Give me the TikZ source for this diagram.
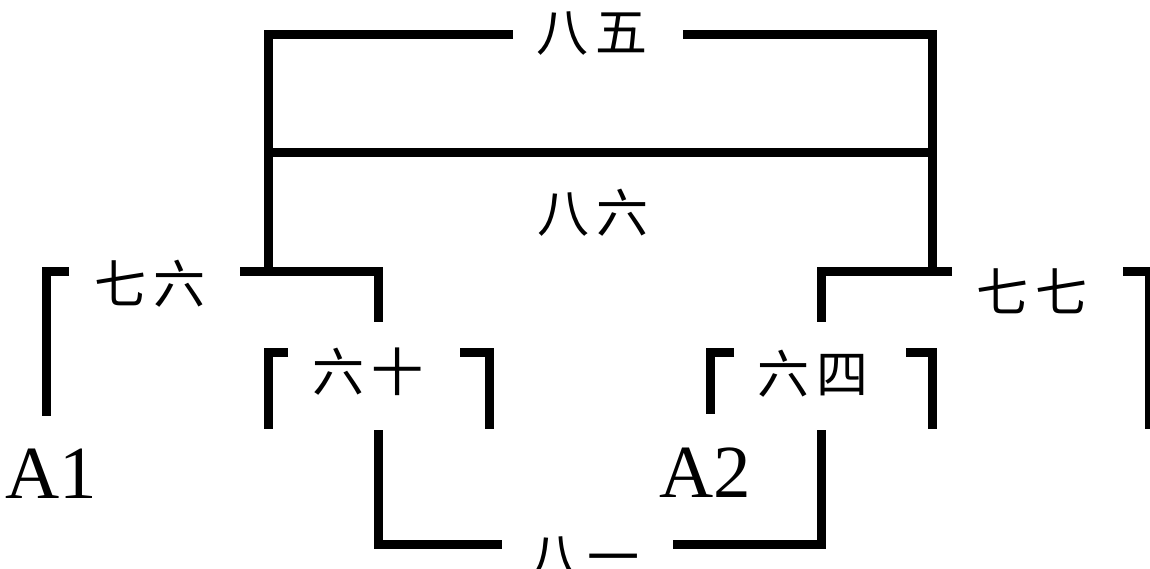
\documentclass[tikz,border=0pt]{standalone}
\usepackage{fontspec}
\setmainfont{Liberation Serif}
\newfontfamily\cjk{Noto Sans CJK SC}
\newcommand\zi[2]{#1\kern.14em#2}

\begin{document}
\begin{tikzpicture}[x=1pt,y=-1pt,
	bar/.style={line width=9pt},
	han/.style={font=\cjk\fontsize{52}{52}\selectfont, inner sep=0pt},
	latin/.style={font=\fontsize{75}{75}\selectfont, inner sep=0pt, anchor=base}]
	\useasboundingbox (0,0) rectangle (1150,569);
	% outer frame
	\path (268.5,34.5) coordinate (a)
	++ (0,118) coordinate (b)
	++ (0,118.5) coordinate (c);
	\path (932.5,34.5) coordinate (d)
	++ (0,118) coordinate (e)
	++ (0,118.5) coordinate (f);
	\path (513,34.5) coordinate (g)
	(683,34.5) coordinate (h);
	\draw[bar] (g) -- (a) -- (c);
	\draw[bar] (h) -- (d) -- (f);
	\draw[bar] (b) -- (e);
	\node[han] (n85) at (592,34) {\zi{八}{五}};
	\node[han] (n86) at (593,213) {\zi{八}{六}};
	% forks
	\path (c) + (-28.5,0) coordinate (cl)
	++ (110,0) coordinate (cr)
	+ (0,51) coordinate (cd);
	\path (f) + (19.5,0) coordinate (fr)
	++ (-111,0) coordinate (fl)
	+ (0,51) coordinate (fd);
	\draw[bar] (cl) -- (cr) -- (cd);
	\draw[bar] (fr) -- (fl) -- (fd);
	% 76 and 77
	\path (46.5,271) coordinate (p)
	+ (22.5,0) coordinate (pr)
	+ (0,145) coordinate (pd);
	\path (1149.5,271) coordinate (q)
	+ (-26.5,0) coordinate (ql)
	+ (0,158) coordinate (qd);
	\draw[bar] (pr) -- (p) -- (pd);
	\draw[bar] (ql) -- (q) -- (qd);
	\node[han] (n76) at (150,283.5) {\zi{七}{六}};
	\node[han] (n77) at (1032,291) {\zi{七}{七}};
	% 60 and 64
	\path (268.5,352.5) coordinate (s)
	+ (19.5,0) coordinate (sr)
	+ (0,76.5) coordinate (sd);
	\path (489.5,352.5) coordinate (t)
	+ (-29.5,0) coordinate (tl)
	+ (0,76.5) coordinate (td);
	\path (710.5,352.5) coordinate (u)
	+ (23.5,0) coordinate (ur)
	+ (0,61.5) coordinate (ud);
	\path (932.5,352.5) coordinate (v)
	+ (-26.5,0) coordinate (vl)
	+ (0,76.5) coordinate (vd);
	\draw[bar] (sr) -- (s) -- (sd);
	\draw[bar] (tl) -- (t) -- (td);
	\draw[bar] (ur) -- (u) -- (ud);
	\draw[bar] (vl) -- (v) -- (vd);
	\node[han] (n60) at (368,372) {\zi{六}{十}};
	\node[han] (n64) at (813,374) {\zi{六}{四}};
	% bottom
	\path (378.5,430) coordinate (w)
	++ (0,114.5) coordinate (wb)
	+ (123.5,0) coordinate (wr);
	\path (821.5,430) coordinate (z)
	++ (0,114.5) coordinate (zb)
	+ (-148.5,0) coordinate (zl);
	\draw[bar] (w) -- (wb) -- (wr);
	\draw[bar] (z) -- (zb) -- (zl);
	\node[han] (n81) at (584,559) {\zi{八}{一}};
	% ends
	\node[latin] (A1) at (51,498) {A1};
	\node[latin] (A2) at (705,497) {A2};
\end{tikzpicture}
\end{document}
